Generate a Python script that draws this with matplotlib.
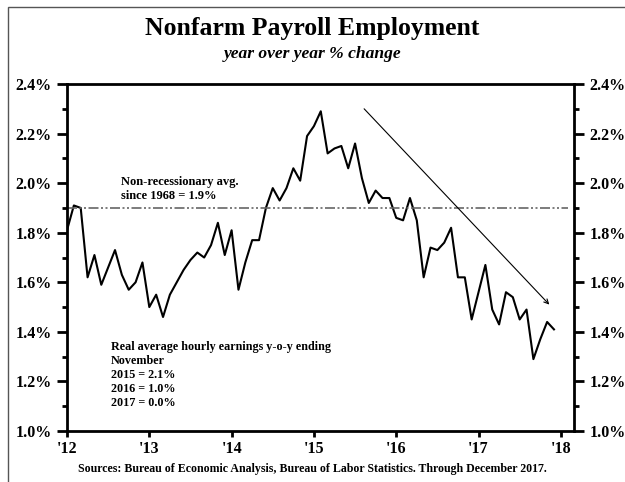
import matplotlib.pyplot as plt
from matplotlib.ticker import MultipleLocator, FuncFormatter
from matplotlib.patches import Rectangle
import numpy as np

# monthly y/y % change, Jan 2012 - Dec 2017
payrolls_2012 = [1.81, 1.91, 1.90, 1.62, 1.71, 1.59, 1.66, 1.73, 1.63, 1.57, 1.60, 1.68]
payrolls_2013 = [1.50, 1.55, 1.46, 1.55, 1.60, 1.65, 1.69, 1.72, 1.70, 1.75, 1.84, 1.71]
payrolls_2014 = [1.81, 1.57, 1.68, 1.77, 1.77, 1.90, 1.98, 1.93, 1.98, 2.06, 2.01, 2.19]
payrolls_2015 = [2.23, 2.29, 2.12, 2.14, 2.15, 2.06, 2.16, 2.02, 1.92, 1.97, 1.94, 1.94]
payrolls_2016 = [1.86, 1.85, 1.94, 1.85, 1.62, 1.74, 1.73, 1.76, 1.82, 1.62, 1.62, 1.45]
payrolls_2017 = [1.56, 1.67, 1.49, 1.43, 1.56, 1.54, 1.45, 1.49, 1.29, 1.37, 1.44, 1.41]

payrolls = payrolls_2012 + payrolls_2013 + payrolls_2014 + payrolls_2015 + payrolls_2016 + payrolls_2017
start_year = 2012
years = [2012, 2013, 2014, 2015, 2016, 2017, 2018]
year_labels = ["'12", "'13", "'14", "'15", "'16", "'17", "'18"]

avg_since_1968 = 1.9
trend_start = (2015.61, 2.30)
trend_end = (2017.86, 1.51)

serif = ["Liberation Serif", "DejaVu Serif"]
plt.rcParams["font.family"] = serif
plt.rcParams["font.weight"] = "bold"

fig = plt.figure(figsize=(6.25, 4.82), dpi=100)
ax = fig.add_axes([0.1072, 0.1058, 0.8112, 0.7199])

# frame round the whole chart (only left/top visible in the crop)
fig.patches.append(Rectangle((7.5 / 625, -0.1), 1.2, 1 - 7 / 482 + 0.1,
                             transform=fig.transFigure, fill=False,
                             edgecolor="#555555", linewidth=1.0))

x = start_year + np.arange(len(payrolls)) / 12
ax.plot(x, payrolls, color="black", linewidth=1.5)

ax.plot([2012, 2018.09], [avg_since_1968, avg_since_1968], color="#666666",
        linewidth=1.2, dashes=[6, 1.5, 1.2, 1.5, 1.2, 1.5])

ax.annotate("", xy=trend_end, xytext=trend_start,
            arrowprops=dict(arrowstyle="->", color="black", lw=0.8,
                            mutation_scale=8, shrinkA=0, shrinkB=0))

ax.set_xlim(2012, 2018.16)
ax.set_ylim(1.0, 2.4)
ax.set_xticks(years)
ax.set_xticklabels(year_labels)
ax.yaxis.set_major_locator(MultipleLocator(0.2))
ax.yaxis.set_minor_locator(MultipleLocator(0.1))
ax.yaxis.set_major_formatter(FuncFormatter(lambda v, p: f"{v:.1f}%"))

ax.tick_params(axis="y", which="major", left=True, right=True,
               labelleft=True, labelright=True, direction="out",
               length=7, width=2, labelsize=11.5, pad=4)
ax.tick_params(axis="y", which="minor", left=True, right=True,
               direction="out", length=3.6, width=2)
ax.tick_params(axis="x", direction="out", length=4.5, width=2,
               labelsize=11.5, pad=3)
for lab in ax.get_xticklabels() + ax.get_yticklabels():
    lab.set_fontweight("bold")
for spine in ax.spines.values():
    spine.set_linewidth(2)

ax.text(2012.66, 1.975, "Non-recessionary avg.\nsince 1968 = 1.9%",
        fontsize=9, fontweight="bold", va="center", ha="left", linespacing=1.25)
ax.text(2012.53, 1.226, "Real average hourly earnings y-o-y ending\nNovember\n"
        "2015 = 2.1%\n2016 = 1.0%\n2017 = 0.0%",
        fontsize=8.7, fontweight="bold", va="center", ha="left", linespacing=1.2)

fig.text(0.5, 0.940, "Nonfarm Payroll Employment", ha="center", va="center",
         fontsize=18.5, fontweight="bold")
fig.text(0.5, 0.888, "year over year % change", ha="center", va="center",
         fontsize=12.6, fontweight="bold", style="italic")
fig.text(0.5, 0.027, "Sources: Bureau of Economic Analysis, Bureau of Labor Statistics. "
         "Through December 2017.", ha="center", va="center", fontsize=8.6,
         fontweight="bold")

fig.savefig("out.png", dpi=100)
